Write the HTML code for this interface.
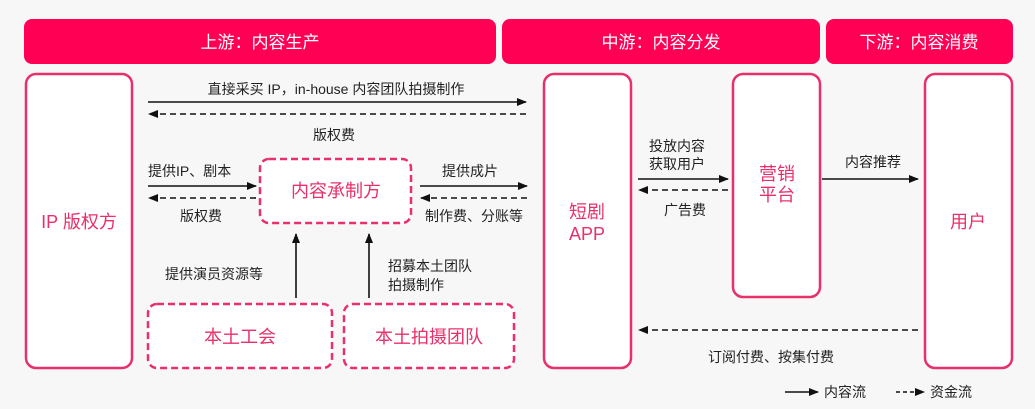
<!DOCTYPE html>
<html><head><meta charset="utf-8"><style>
body{margin:0;background:#f7f7f7;}
svg{display:block;font-family:"Liberation Sans","Noto Sans CJK SC",sans-serif;}
</style></head><body>
<svg width="1035" height="409" viewBox="0 0 1035 409" xmlns="http://www.w3.org/2000/svg">
<defs>
<marker id="a" markerWidth="10" markerHeight="8" refX="9" refY="4" orient="auto" markerUnits="userSpaceOnUse"><path d="M0,0 L10,4 L0,8 Z" fill="#111"/></marker>
</defs>
<rect width="1035" height="409" fill="#f7f7f7"/>
<g fill="#ff0055">
<rect x="24" y="19" width="472" height="45" rx="8"/>
<rect x="502" y="19" width="318" height="45" rx="8"/>
<rect x="826" y="19" width="187" height="45" rx="8"/>
</g>
<g fill="#fff" font-size="17" text-anchor="middle">
<text x="260" y="48">上游：内容生产</text>
<text x="661" y="48">中游：内容分发</text>
<text x="919" y="48">下游：内容消费</text>
</g>
<g fill="#fff" stroke="#e8306a" stroke-width="2.5">
<rect x="26" y="74" width="106" height="294" rx="10"/>
<rect x="544" y="74" width="87" height="294" rx="10"/>
<rect x="733" y="74" width="87" height="223" rx="10"/>
<rect x="925" y="74" width="87" height="294" rx="10"/>
</g>
<g fill="#fff" stroke="#e8306a" stroke-width="2.5" stroke-dasharray="7,4">
<rect x="260" y="159" width="151" height="64" rx="9"/>
<rect x="148" y="304" width="184" height="64" rx="9"/>
<rect x="344" y="304" width="170" height="64" rx="9"/>
</g>
<g fill="#e8306a" font-size="18" text-anchor="middle">
<text x="79" y="228">IP 版权方</text>
<text x="336" y="197">内容承制方</text>
<text x="240" y="343">本土工会</text>
<text x="429" y="343">本土拍摄团队</text>
<text x="587" y="218">短剧</text>
<text x="587" y="240">APP</text>
<text x="777" y="180">营销</text>
<text x="777" y="201">平台</text>
<text x="968" y="228">用户</text>
</g>
<g stroke="#111" stroke-width="1.6" fill="none">
<line x1="148" y1="102" x2="526" y2="102" marker-end="url(#a)"/>
<line x1="526" y1="114" x2="149" y2="114" stroke-dasharray="6,4" marker-end="url(#a)"/>
<line x1="148" y1="186" x2="256" y2="186" marker-end="url(#a)"/>
<line x1="256" y1="198" x2="149" y2="198" stroke-dasharray="6,4" marker-end="url(#a)"/>
<line x1="420" y1="186" x2="527" y2="186" marker-end="url(#a)"/>
<line x1="527" y1="198" x2="421" y2="198" stroke-dasharray="6,4" marker-end="url(#a)"/>
<line x1="296" y1="298" x2="296" y2="234" marker-end="url(#a)"/>
<line x1="369" y1="298" x2="369" y2="234" marker-end="url(#a)"/>
<line x1="638" y1="179" x2="728" y2="179" marker-end="url(#a)"/>
<line x1="728" y1="190" x2="639" y2="190" stroke-dasharray="6,4" marker-end="url(#a)"/>
<line x1="822" y1="179" x2="918" y2="179" marker-end="url(#a)"/>
<line x1="918" y1="330" x2="639" y2="330" stroke-dasharray="6,4" marker-end="url(#a)"/>
<line x1="785" y1="392" x2="818" y2="392" marker-end="url(#a)"/>
<line x1="896" y1="392" x2="924" y2="392" stroke-dasharray="4,3" marker-end="url(#a)"/>
</g>
<g fill="#222" font-size="14">
<text x="336" y="94" text-anchor="middle">直接采买 IP，in-house 内容团队拍摄制作</text>
<text x="334" y="140" text-anchor="middle">版权费</text>
<text x="148" y="176">提供IP、剧本</text>
<text x="201" y="221" text-anchor="middle">版权费</text>
<text x="470" y="176" text-anchor="middle">提供成片</text>
<text x="474" y="221" text-anchor="middle">制作费、分账等</text>
<text x="165" y="279">提供演员资源等</text>
<text x="388" y="271">招募本土团队</text>
<text x="388" y="290">拍摄制作</text>
<text x="649" y="151">投放内容</text>
<text x="649" y="169">获取用户</text>
<text x="685" y="215" text-anchor="middle">广告费</text>
<text x="873" y="167" text-anchor="middle">内容推荐</text>
<text x="771" y="362" text-anchor="middle">订阅付费、按集付费</text>
<text x="824" y="397">内容流</text>
<text x="930" y="397">资金流</text>
</g>
</svg>
</body></html>
